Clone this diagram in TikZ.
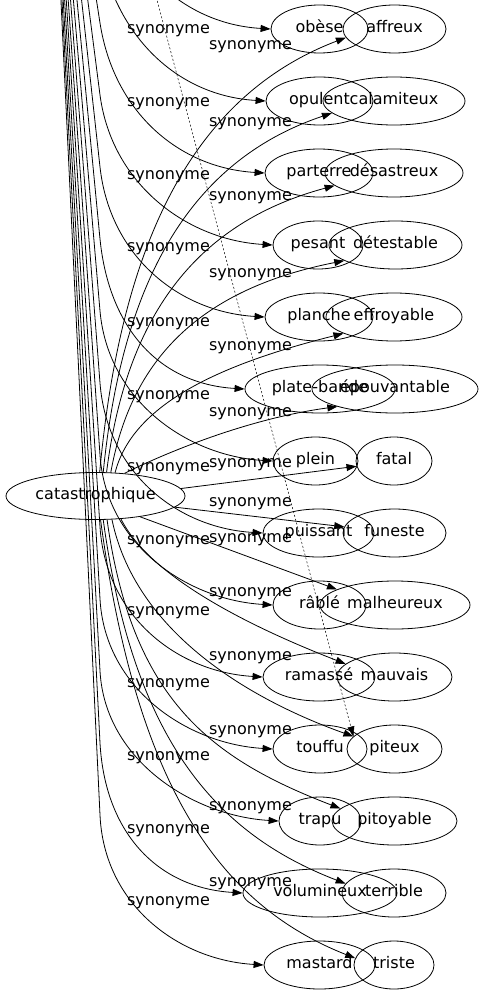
\documentclass[tikz,border=0pt]{standalone}
\usepackage{fontspec}
\setmainfont{DejaVu Sans}
\usetikzlibrary{arrows.meta, shapes.geometric, calc}
\tikzset{
    word/.style={
        draw,
        ellipse,
        line width=0.8pt,
        inner sep=0pt,
        minimum height=48pt,
        text height=11.6pt,
        text depth=3.8pt,
        font=\fontsize{16pt}{19pt}\selectfont
    },
    rel/.style={
        inner sep=0pt,
        text height=11.6pt,
        text depth=3.8pt,
        font=\fontsize{16pt}{19pt}\selectfont
    },
    link/.style={-{Triangle[length=10pt, width=7pt]}, line width=0.8pt},
    farlink/.style={-{Triangle[length=10pt, width=7pt]}, line width=0.5pt, dash pattern=on 2pt off 2pt}
}
\begin{document}
\begin{tikzpicture}[x=1pt, y=-1pt]
\clip (0,0) rectangle (483,995);

% off-picture ends
\coordinate (hub) at (45,-332);
\coordinate (bx) at (100,0);
\coordinate (farsrc) at (149,-30);

% centre word
\node[word, minimum width=179pt, minimum height=47pt] (cat) at (95.5,496) {catastrophique};

% left column
\node[word, minimum width=97pt]  (obese)      at (319.5,29)  {obèse};
\node[word, minimum width=107pt] (opulent)    at (319.5,101) {opulent};
\node[word, minimum width=108pt] (parterre)   at (319,173)   {parterre};
\node[word, minimum width=90pt]  (pesant)     at (318,245)   {pesant};
\node[word, minimum width=108pt] (planche)    at (319,317)   {planche};
\node[word, minimum width=150pt] (platebande) at (320,389)   {plate-bande};
\node[word, minimum width=85pt]  (plein)      at (315.5,461) {plein};
\node[word, minimum width=111pt] (puissant)   at (318.5,533) {puissant};
\node[word, minimum width=93pt]  (rable)      at (319.5,605) {râblé};
\node[word, minimum width=112pt] (ramasse)    at (319,677)   {ramassé};
\node[word, minimum width=94pt]  (touffu)     at (320,749)   {touffu};
\node[word, minimum width=82pt]  (trapu)      at (320,821)   {trapu};
\node[word, minimum width=154pt] (volumineux) at (320,893)   {volumineux};
\node[word, minimum width=111pt] (mastard)    at (319.5,965) {mastard};

% right column
\node[word, minimum width=103pt] (affreux)      at (394.5,29)  {affreux};
\node[word, minimum width=142pt] (calamiteux)   at (394,101)   {calamiteux};
\node[word, minimum width=138pt] (desastreux)   at (394,173)   {désastreux};
\node[word, minimum width=133pt] (detestable)   at (395.5,245) {détestable};
\node[word, minimum width=136pt] (effroyable)   at (394,317)   {effroyable};
\node[word, minimum width=166pt] (epouvantable) at (395,389)   {épouvantable};
\node[word, minimum width=76pt]  (fatal)        at (394,461)   {fatal};
\node[word, minimum width=103pt] (funeste)      at (394.5,533) {funeste};
\node[word, minimum width=150pt] (malheureux)   at (395,605)   {malheureux};
\node[word, minimum width=115pt] (mauvais)      at (394.5,677) {mauvais};
\node[word, minimum width=95pt]  (piteux)       at (394.5,749) {piteux};
\node[word, minimum width=125pt] (pitoyable)    at (394.5,821) {pitoyable};
\node[word, minimum width=104pt] (terrible)     at (394,893)   {terrible};
\node[word, minimum width=80pt]  (triste)       at (394,965)   {triste};

% links coming down from above into the left column
\draw[link] (hub) -- ([yshift=150pt]obese.west -| bx)      .. controls +(24,90) and +(-85,-5) .. (obese.west);
\draw[link] (hub) -- ([yshift=150pt]opulent.west -| bx)    .. controls +(18,90) and +(-85,-5) .. (opulent.west);
\draw[link] (hub) -- ([yshift=150pt]parterre.west -| bx)   .. controls +(14,90) and +(-85,-5) .. (parterre.west);
\draw[link] (hub) -- ([yshift=150pt]pesant.west -| bx)     .. controls +(12,90) and +(-85,-5) .. (pesant.west);
\draw[link] (hub) -- ([yshift=150pt]planche.west -| bx)    .. controls +(10,90) and +(-85,-5) .. (planche.west);
\draw[link] (hub) -- ([yshift=150pt]platebande.west -| bx) .. controls +(9,90) and +(-85,-5) .. (platebande.west);
\draw[link] (hub) -- ([yshift=150pt]plein.west -| bx)      .. controls +(8,90) and +(-85,-5) .. (plein.west);
\draw[link] (hub) -- ([yshift=150pt]puissant.west -| bx)   .. controls +(7,90) and +(-85,-5) .. (puissant.west);
\draw[link] (hub) -- ([yshift=150pt]rable.west -| bx)      .. controls +(6,90) and +(-85,-5) .. (rable.west);
\draw[link] (hub) -- ([yshift=150pt]ramasse.west -| bx)    .. controls +(6,90) and +(-85,-5) .. (ramasse.west);
\draw[link] (hub) -- ([yshift=150pt]touffu.west -| bx)     .. controls +(5,90) and +(-85,-5) .. (touffu.west);
\draw[link] (hub) -- ([yshift=150pt]trapu.west -| bx)      .. controls +(5,90) and +(-85,-5) .. (trapu.west);
\draw[link] (hub) -- ([yshift=150pt]volumineux.west -| bx) .. controls +(5,90) and +(-85,-5) .. (volumineux.west);
\draw[link] (hub) -- ([yshift=150pt]mastard.west -| bx)    .. controls +(4,90) and +(-85,-5) .. (mastard.west);

% links from catastrophique into the right column
\draw[link] (cat.80) .. controls +(20,-217) and +(-160,61) .. (affreux.190);
\draw[link] (cat.72) .. controls +(18,-180) and +(-149,50) .. (calamiteux.191);
\draw[link] (cat.65) .. controls +(18,-143) and +(-149,40) .. (desastreux.192);
\draw[link] (cat.57) .. controls +(19,-106) and +(-152,30) .. (detestable.197);
\draw[link] (cat.50) .. controls +(18,-70) and +(-120,30) .. (effroyable.198);
\draw[link] (cat.38) .. controls +(40,-20) and +(-90,12) .. (epouvantable.197);
\draw[link] (cat.5) -- (fatal.188);
\draw[link] (cat.352) -- (funeste.173);
\draw[link] (cat.335) -- (malheureux.165);
\draw[link] (cat.318) .. controls +(30,60) and +(-90,-35) .. (mauvais.165);
\draw[link] (cat.305) .. controls +(25,120) and +(-90,-32) .. (piteux.163);
\draw[link] (cat.296) .. controls +(25,180) and +(-130,-50) .. (pitoyable.167);
\draw[link] (cat.288) .. controls +(30,220) and +(-130,-50) .. (terrible.169);
\draw[link] (cat.282) .. controls +(35,260) and +(-140,-55) .. (triste.170);

% dashed link from above
\draw[farlink] (farsrc) -- (piteux.163);

% labels of the left links
\node[rel] (s-opulent)    at (168.5,30)  {synonyme};
\node[rel] (s-parterre)   at (168.5,103) {synonyme};
\node[rel] (s-pesant)     at (168.5,176) {synonyme};
\node[rel] (s-planche)    at (168.5,248) {synonyme};
\node[rel] (s-platebande) at (168.5,323) {synonyme};
\node[rel] (s-plein)      at (168.5,396) {synonyme};
\node[rel] (s-puissant)   at (168.5,468) {synonyme};
\node[rel] (s-rable)      at (168.5,541) {synonyme};
\node[rel] (s-ramasse)    at (168.5,612) {synonyme};
\node[rel] (s-touffu)     at (168.5,684) {synonyme};
\node[rel] (s-trapu)      at (168.5,757) {synonyme};
\node[rel] (s-volumineux) at (168.5,830) {synonyme};
\node[rel] (s-mastard)    at (168.5,902) {synonyme};

% labels of the right links
\node[rel] (s-affreux)      at (250.5,46)  {synonyme};
\node[rel] (s-calamiteux)   at (250.5,123) {synonyme};
\node[rel] (s-desastreux)   at (250.5,197) {synonyme};
\node[rel] (s-detestable)   at (250.5,274) {synonyme};
\node[rel] (s-effroyable)   at (250.5,347) {synonyme};
\node[rel] (s-epouvantable) at (250.5,413) {synonyme};
\node[rel] (s-fatal)        at (250.5,464) {synonyme};
\node[rel] (s-funeste)      at (250.5,503) {synonyme};
\node[rel] (s-malheureux)   at (250.5,539) {synonyme};
\node[rel] (s-mauvais)      at (250.5,593) {synonyme};
\node[rel] (s-piteux)       at (250.5,657) {synonyme};
\node[rel] (s-pitoyable)    at (250.5,731) {synonyme};
\node[rel] (s-terrible)     at (250.5,807) {synonyme};
\node[rel] (s-triste)       at (250.5,883) {synonyme};

\end{tikzpicture}
\end{document}
